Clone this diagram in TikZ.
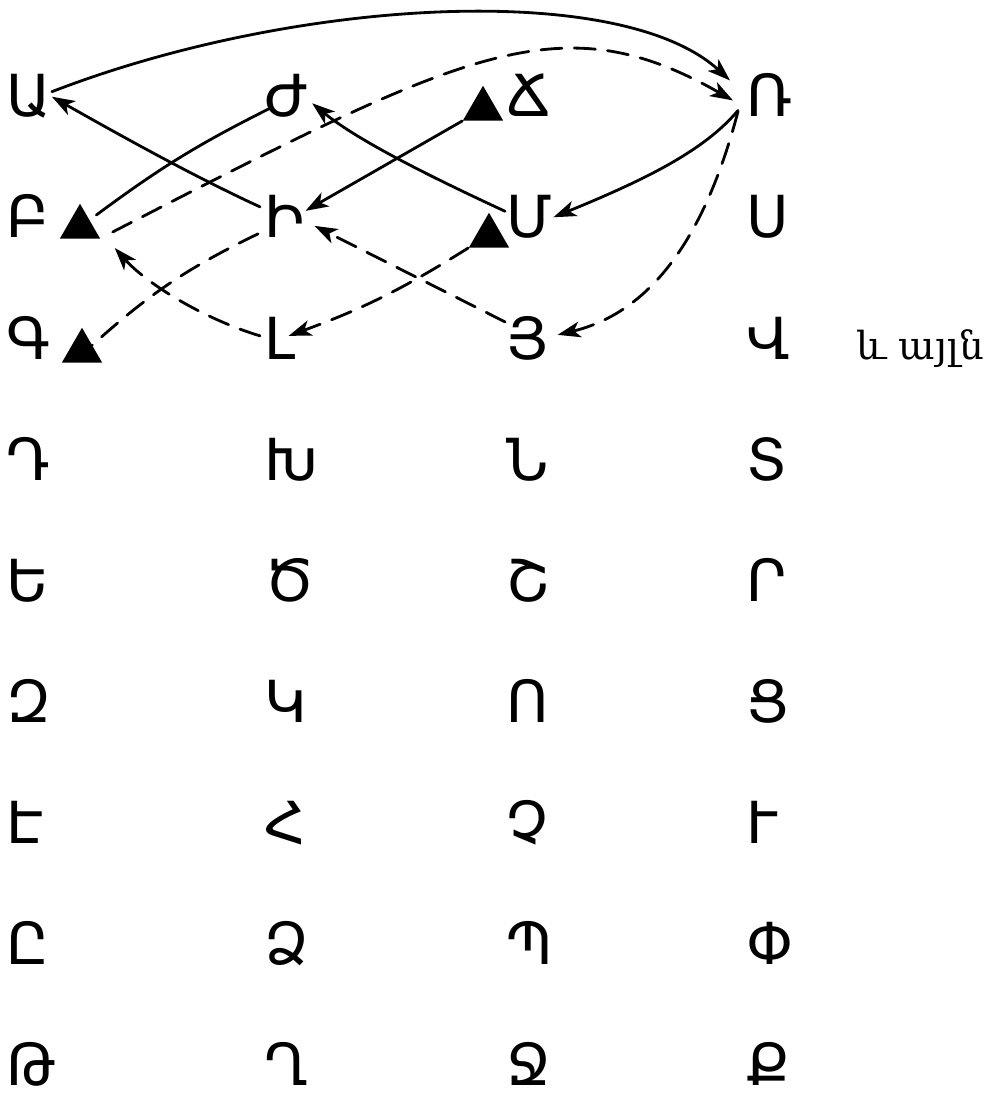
\documentclass[tikz,border=0pt]{standalone}
\usepackage{fontspec}
\setmainfont{DejaVu Sans}
\newfontfamily\notefont{DejaVu Serif}
\usepackage{tikz}
\usetikzlibrary{arrows.meta,shapes.geometric}

\begin{document}
\begin{tikzpicture}[
  x=0.02cm,y=0.02cm,
  letter/.style={anchor=base west,inner sep=0.5pt,font=\fontsize{33}{33}\selectfont},
  note/.style={anchor=base west,inner sep=0.5pt,font=\notefont\fontsize{22}{22}\selectfont},
  tri/.style={regular polygon,regular polygon sides=3,fill=black,inner sep=0pt,minimum size=0.93cm},
  link/.style={line width=1.6pt,line cap=round},
  arr/.style={link,-{Stealth[length=13pt,width=9pt,inset=3.5pt]}},
  dlink/.style={link,dash pattern=on 12pt off 7pt},
  darr/.style={arr,dash pattern=on 12pt off 7pt}
]
\useasboundingbox (0,0) rectangle (992,-1101);
\node[letter] (ayb) at (5,-117) {Ա};
\node[letter] (ben) at (5,-238) {Բ};
\node[letter] (gim) at (5,-359) {Գ};
\node[letter] (da) at (5,-480) {Դ};
\node[letter] (ech) at (5,-601) {Ե};
\node[letter] (za) at (5,-722) {Զ};
\node[letter] (ee) at (5,-843) {Է};
\node[letter] (et) at (5,-964) {Ը};
\node[letter] (tho) at (5,-1085) {Թ};
\node[letter] (zhe) at (263,-117) {Ժ};
\node[letter] (ini) at (263,-238) {Ի};
\node[letter] (liun) at (263,-359) {Լ};
\node[letter] (xe) at (263,-480) {Խ};
\node[letter] (ca) at (263,-601) {Ծ};
\node[letter] (ken) at (263,-722) {Կ};
\node[letter] (ho) at (263,-843) {Հ};
\node[letter] (ja) at (263,-964) {Ձ};
\node[letter] (ghat) at (263,-1085) {Ղ};
\node[letter] (che) at (505,-117) {Ճ};
\node[letter] (men) at (505,-238) {Մ};
\node[letter] (hi) at (505,-359) {Յ};
\node[letter] (nu) at (505,-480) {Ն};
\node[letter] (sha) at (505,-601) {Շ};
\node[letter] (vo) at (505,-722) {Ո};
\node[letter] (cha) at (505,-843) {Չ};
\node[letter] (pe) at (505,-964) {Պ};
\node[letter] (jhe) at (505,-1085) {Ջ};
\node[letter] (ra) at (745,-117) {Ռ};
\node[letter] (se) at (745,-238) {Ս};
\node[letter] (vev) at (745,-359) {Վ};
\node[letter] (tyun) at (745,-480) {Տ};
\node[letter] (re) at (745,-601) {Ր};
\node[letter] (co) at (745,-722) {Ց};
\node[letter] (hyun) at (745,-843) {Ւ};
\node[letter] (pyur) at (745,-964) {Փ};
\node[letter] (ke) at (745,-1085) {Ք};
\node[note] (etc) at (855,-359) {և այլն};
\node[tri] (trben) at (80,-227) {};
\node[tri] (trgim) at (82,-351) {};
\node[tri] (trche) at (483,-109) {};
\node[tri] (trmen) at (489,-236) {};
\draw[arr] ([shift={(0,5)}]ayb.east) .. controls (294,2) and (620,20) .. ([shift={(-15,15)}]ra.west);
\draw[arr] ([shift={(-7,-15)}]ra.west) .. controls (705,-150) and (647,-179) .. (men.east);
\draw[arr] ([shift={(0,6)}]men.west) .. controls (442,-182) and (361,-143) .. ([shift={(3,-7)}]zhe.east);
\draw[link] ([shift={(6,6)}]trben.side 3) to[bend left=5] ([shift={(7,-12)}]zhe.west);
\draw[arr] (trche.corner 2) -- ([shift={(0,6)}]ini.east);
\draw[arr] ([shift={(-3,10)}]ini.west) .. controls (197,-178) and (123,-137) .. (ayb.east);
\draw[darr] ([shift={(12,7)}]trben.corner 3) .. controls (466,-50) and (560,-2) .. ([shift={(-12,-5)}]ra.west);
\draw[darr] ([shift={(-7,-16)}]ra.west) .. controls (707,-229) and (656,-311) .. ([shift={(8,3)}]hi.east);
\draw[darr] (trmen.corner 2) to[bend left=6] ([shift={(9,2)}]liun.center);
\draw[darr] ([shift={(-3,2)}]liun.west) .. controls (204,-319) and (147,-284) .. ([shift={(14,-9)}]trben.corner 3);
\draw[darr] ([shift={(0,16)}]hi.west) -- ([shift={(9,-9)}]ini.east);
\draw[dlink] ([shift={(-5,-17)}]ini.west) to[bend right=8] (trgim.side 3);
\end{tikzpicture}
\end{document}
